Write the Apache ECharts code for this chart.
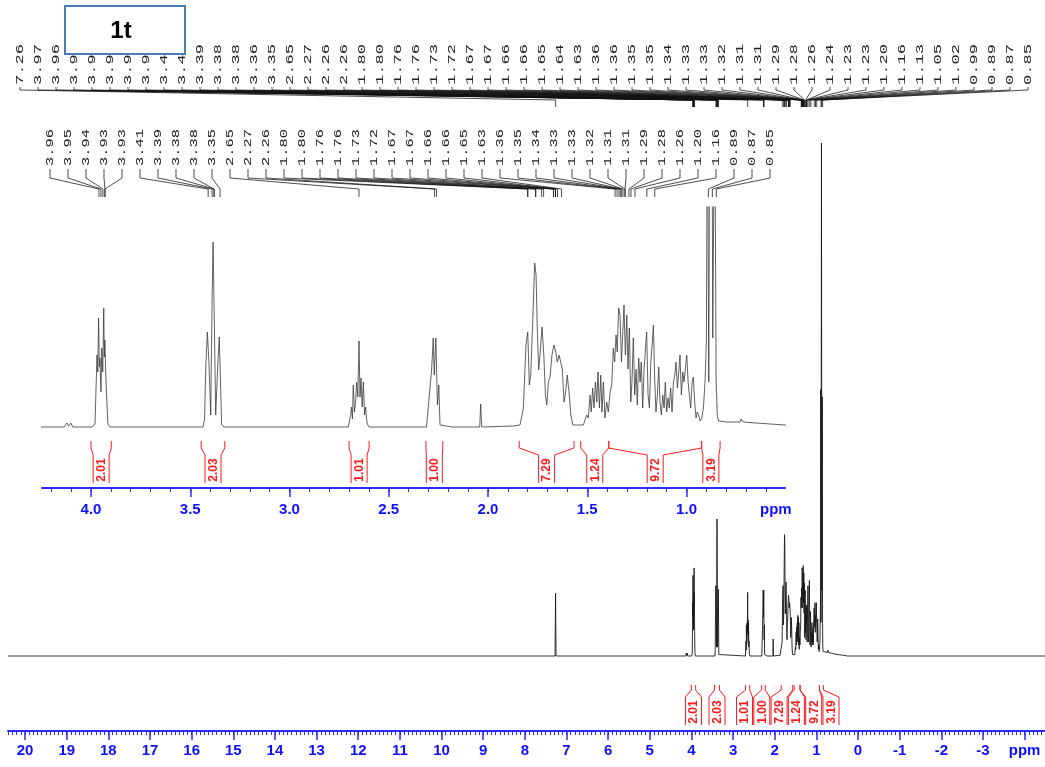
<!DOCTYPE html>
<html>
<head>
<meta charset="utf-8">
<title>1t - 1H NMR</title>
<script src="https://cdn.jsdelivr.net/npm/echarts@6/dist/echarts.min.js"></script>
<style>
  html, body { margin: 0; padding: 0; background: #ffffff; }
  #chart { width: 1045px; height: 767px; }
</style>
</head>
<body>
<div id="chart"></div>
<script>
// 1H NMR spectrum of 1t: full sweep (20 to -4 ppm) with an expanded 4.2-0.5 ppm view.
// Trace points are [shift in ppm, intensity] read per multiplet.

const signalCHCl3 = [[7.275, 0], [7.262, 85], [7.250, 0]];
const signal412 = [[4.135, 0], [4.122, 4], [4.112, 1], [4.102, 4], [4.092, 0]];
const signal395 = [[3.995, 0], [3.980, 3], [3.970, 72], [3.966, 55], [3.962, 109], [3.958, 60], [3.955, 69],
  [3.950, 35], [3.946, 79], [3.941, 55], [3.936, 119], [3.933, 70], [3.930, 87], [3.927, 60], [3.922, 33],
  [3.915, 3], [3.905, 0]];
const signal338 = [[3.436, 0], [3.428, 8], [3.422, 60], [3.414, 95], [3.406, 65], [3.397, 12], [3.390, 129],
  [3.385, 185], [3.380, 120], [3.372, 12], [3.362, 60], [3.354, 90], [3.349, 54], [3.342, 2], [3.330, 0]];
const signal265 = [[2.704, 0], [2.692, 12], [2.688, 20], [2.683, 8], [2.679, 42], [2.673, 15], [2.667, 25],
  [2.662, 45], [2.656, 30], [2.650, 86], [2.645, 30], [2.640, 49], [2.634, 20], [2.628, 45], [2.622, 12],
  [2.617, 20], [2.612, 8], [2.608, 3], [2.599, 0]];
const signal227 = [[2.310, 0], [2.301, 2], [2.292, 40], [2.284, 58], [2.276, 89], [2.271, 52], [2.263, 89],
  [2.255, 22], [2.248, 42], [2.242, 2], [2.235, 0]];
const signal204 = [[2.180, 0], [2.175, 2], [2.170, 0], [2.042, 0], [2.037, 23], [2.032, 0], [1.870, 1]];
const signal176 = [[1.839, 2], [1.822, 19], [1.809, 82], [1.800, 95], [1.792, 42], [1.785, 52], [1.775, 105],
  [1.765, 164], [1.758, 152], [1.752, 99], [1.745, 57], [1.737, 75], [1.728, 100], [1.719, 72], [1.711, 32],
  [1.704, 22], [1.696, 45], [1.688, 50], [1.678, 72], [1.668, 82], [1.659, 75], [1.651, 65], [1.642, 72],
  [1.634, 74], [1.626, 58], [1.617, 25], [1.609, 35], [1.601, 52], [1.592, 35], [1.583, 12], [1.573, 2],
  [1.553, 2], [1.520, 2]];
const signal130 = [[1.511, 4], [1.503, 12], [1.495, 9], [1.486, 32], [1.480, 15], [1.473, 39], [1.466, 19],
  [1.459, 45], [1.452, 25], [1.446, 55], [1.439, 19], [1.432, 52], [1.426, 15], [1.419, 45], [1.411, 9],
  [1.402, 25], [1.394, 15], [1.385, 35], [1.377, 42], [1.369, 79], [1.362, 65], [1.355, 92], [1.349, 75],
  [1.342, 119], [1.335, 112], [1.328, 65], [1.321, 95], [1.315, 122], [1.308, 72], [1.301, 112], [1.295, 58],
  [1.288, 99], [1.281, 25], [1.275, 45], [1.268, 89], [1.261, 32], [1.254, 58], [1.248, 22], [1.241, 69],
  [1.234, 45], [1.228, 65], [1.221, 19], [1.214, 58], [1.208, 75], [1.201, 95], [1.194, 32], [1.187, 19],
  [1.180, 65], [1.172, 85], [1.167, 102], [1.160, 45], [1.154, 15], [1.147, 32], [1.140, 60], [1.134, 25],
  [1.127, 12], [1.120, 32], [1.113, 19], [1.107, 45], [1.100, 15], [1.093, 29], [1.087, 19], [1.080, 39],
  [1.073, 15], [1.066, 45], [1.059, 52], [1.053, 65], [1.046, 39], [1.039, 55], [1.033, 72], [1.026, 32],
  [1.019, 55], [1.013, 45], [1.006, 58], [0.999, 72], [0.992, 45], [0.986, 32], [0.979, 19], [0.972, 45],
  [0.966, 50], [0.959, 25], [0.952, 9], [0.946, 15], [0.939, 12], [0.932, 6], [0.923, 9], [0.915, 19],
  [0.907, 45], [0.900, 85]];
const signal087 = [[0.895, 360], [0.888, 45], [0.877, 693], [0.868, 89], [0.858, 350], [0.851, 45], [0.845, 12],
  [0.839, 6], [0.831, 4], [0.800, 5], [0.730, 5], [0.725, 8], [0.715, 5], [0.650, 4], [0.504, 2], [0.350, 1],
  [0.250, 0]];

// Peak pick labels (ppm)
const fullPeakLabels = [7.26, 3.97, 3.96, 3.95, 3.95, 3.94, 3.93, 3.93, 3.41, 3.40, 3.39, 3.38, 3.38, 3.36, 3.35,
  2.65, 2.27, 2.26, 2.26, 1.80, 1.80, 1.76, 1.76, 1.73, 1.72, 1.67, 1.67, 1.66, 1.66, 1.65, 1.64, 1.63,
  1.36, 1.36, 1.35, 1.35, 1.34, 1.33, 1.33, 1.32, 1.31, 1.31, 1.29, 1.28, 1.26, 1.24, 1.23, 1.23, 1.20,
  1.16, 1.13, 1.05, 1.02, 0.99, 0.89, 0.87, 0.85];
const expandedPeakLabels = [3.96, 3.95, 3.94, 3.93, 3.93, 3.41, 3.39, 3.38, 3.38, 3.35, 2.65, 2.27, 2.26,
  1.80, 1.80, 1.76, 1.76, 1.73, 1.72, 1.67, 1.67, 1.66, 1.66, 1.65, 1.63, 1.36, 1.35, 1.34, 1.33, 1.33,
  1.32, 1.31, 1.31, 1.29, 1.28, 1.26, 1.20, 1.16, 0.89, 0.87, 0.85];

// Integrals: value and region limits (ppm)
const integralValues = [2.01, 2.03, 1.01, 1.00, 7.29, 1.24, 9.72, 3.19];
const integralFrom = [4.000, 3.445, 2.700, 2.313, 1.843, 1.533, 1.392, 0.924];
const integralTo = [3.898, 3.326, 2.599, 2.228, 1.567, 1.392, 0.924, 0.831];

// Axis tick labels
const fullAxisLabels = [20, 19, 18, 17, 16, 15, 14, 13, 12, 11, 10, 9, 8, 7, 6, 5, 4, 3, 2, 1, 0, -1, -2, -3, -4];
const expandedAxisLabels = [4.0, 3.5, 3.0, 2.5, 2.0, 1.5, 1.0, 0.55];

// ---- assemble the trace ----
const trace = [[20.41, 0]].concat(signalCHCl3, [[4.30, 0]], signal412, signal395, signal338, signal265,
  signal227, signal204, signal176, signal130, signal087, [[-4.49, 0]]);

// ---- layout ----
const BLUE_LINE = '#2b2bff';
const BLUE_TEXT = '#0f0fff';
const RED = '#ff1a1a';
const FULL = { min: -4.49, max: 20.41, yMin: -101.3, yMax: 693 };
const EXPANDED = { min: 0.504, max: 4.247, yMin: -61, yMax: 220 };

function tickRange(from, to, step) {
  const out = [];
  const n = Math.round((to - from) / step);
  for (let k = 0; k <= n; k++) out.push(+(from + k * step).toFixed(3));
  return out;
}
const fullMajorTicks = fullAxisLabels.slice();
const fullMinorTicks = tickRange(-4.4, 20.4, 0.1);
const expandedMajorTicks = [4.0, 3.5, 3.0, 2.5, 2.0, 1.5, 1.0];
const expandedMinorTicks = tickRange(0.6, 4.2, 0.1);

// Least-squares placement of labels with a minimum spacing (pool adjacent violators)
function spreadLabels(centers, gap) {
  const z = centers.map((c, i) => c - i * gap);
  const blocks = [];
  z.forEach(v => {
    blocks.push({ sum: v, n: 1 });
    while (blocks.length > 1) {
      const a = blocks[blocks.length - 2], b = blocks[blocks.length - 1];
      if (a.sum / a.n > b.sum / b.n) { a.sum += b.sum; a.n += b.n; blocks.pop(); } else break;
    }
  });
  const out = [];
  blocks.forEach(b => { for (let k = 0; k < b.n; k++) out.push(b.sum / b.n); });
  return out.map((v, i) => v + i * gap);
}

function peakFan(labels, xAxisIndex, yAxisIndex, L) {
  return {
    type: 'custom',
    xAxisIndex, yAxisIndex,
    silent: true, clip: false, z: 5,
    data: labels.map(v => [v, 0]),
    encode: { x: 0, y: 1 },
    renderItem(params, api) {
      const i = params.dataIndex;
      const n = labels.length;
      const cs = params.coordSys;
      const x0 = cs.x + L.padL, x1 = cs.x + cs.width - L.padR;
      const xl = x0 + (x1 - x0) * i / (n - 1);
      const xp = api.coord([api.value(0), 0])[0];
      return {
        type: 'group',
        children: [
          {
            type: 'text', x: xl, y: L.textBottom, rotation: Math.PI / 2, scaleX: L.stretch,
            style: { text: labels[i].toFixed(2), x: 0, y: 0, align: 'left', verticalAlign: 'middle',
              font: 'normal 11px "Liberation Mono", "DejaVu Sans Mono", monospace', fill: '#222222' }
          },
          {
            type: 'polyline',
            shape: { points: [[xl, L.tickTop], [xl, L.tickBottom], [xp, L.bendY], [xp, L.peakY]] },
            style: { stroke: '#111', lineWidth: 0.75, fill: 'none' }
          }
        ]
      };
    }
  };
}

function integralMarks(xAxisIndex, yAxisIndex, L) {
  return {
    type: 'custom',
    xAxisIndex, yAxisIndex,
    silent: true, clip: false, z: 6,
    data: integralValues.map((v, i) => [integralFrom[i], integralTo[i], v]),
    encode: { x: [0, 1], y: 2 },
    renderItem(params, api) {
      const idx = params.dataIndex;
      const centers = integralFrom.map((f, i) => {
        const a = api.coord([f, 0])[0], b = api.coord([integralTo[i], 0])[0];
        return (a + b) / 2;
      });
      const pos = spreadLabels(centers, L.gap);
      const xa = api.coord([api.value(0), 0])[0];
      const xb = api.coord([api.value(1), 0])[0];
      const c = pos[idx];
      const h = L.half;
      const line = pts => ({ type: 'polyline', shape: { points: pts }, style: { stroke: RED, lineWidth: 1, fill: 'none' } });
      return {
        type: 'group',
        children: [
          line([[xa, L.top], [xa, L.y1], [c - h, L.y2], [c - h, L.bottom]]),
          line([[xb, L.top], [xb, L.y1], [c + h, L.y2], [c + h, L.bottom]]),
          {
            type: 'text', x: c + 0.5, y: (L.y2 + L.bottom) / 2 + 1, rotation: Math.PI / 2,
            style: { text: api.value(2).toFixed(2), x: 0, y: 0, align: 'center', verticalAlign: 'middle',
              font: 'bold 12px "Liberation Sans", Arial, sans-serif', fill: RED }
          }
        ]
      };
    }
  };
}

function majorAxis(gridIndex, range, ticks, labels, fmt, margin) {
  return {
    type: 'value', gridIndex, min: range.min, max: range.max, inverse: true, position: 'bottom',
    axisLine: { show: true, onZero: false, lineStyle: { color: BLUE_LINE, width: 2 } },
    axisTick: { show: true, length: 9, customValues: ticks, lineStyle: { color: BLUE_LINE, width: 1.5 } },
    axisLabel: { show: true, customValues: labels, formatter: fmt, margin, color: BLUE_TEXT,
      fontFamily: '"Liberation Sans Narrow", "Liberation Sans", Arial, sans-serif',
      fontWeight: 'bold', fontSize: 15 },
    splitLine: { show: false }
  };
}
function minorAxis(gridIndex, range, ticks) {
  return {
    type: 'value', gridIndex, min: range.min, max: range.max, inverse: true, position: 'bottom',
    axisLine: { show: false, onZero: false },
    axisTick: { show: true, length: 4, customValues: ticks, lineStyle: { color: BLUE_LINE, width: 1 } },
    axisLabel: { show: false, customValues: ticks },
    splitLine: { show: false }
  };
}

const chart = echarts.init(document.getElementById('chart'), null, { renderer: 'canvas' });
chart.setOption({
  backgroundColor: '#ffffff',
  animation: false,
  grid: [
    { left: 8, right: 0, top: 143, bottom: 36 },
    { left: 42, right: 260, top: 207, bottom: 279 }
  ],
  xAxis: [
    majorAxis(0, FULL, fullMajorTicks, fullAxisLabels, v => (v === -4 ? 'ppm' : String(v)), 12),
    minorAxis(0, FULL, fullMinorTicks),
    majorAxis(1, EXPANDED, expandedMajorTicks, expandedAxisLabels, v => (v < 0.9 ? 'ppm' : v.toFixed(1)), 14),
    minorAxis(1, EXPANDED, expandedMinorTicks)
  ],
  yAxis: [
    { type: 'value', gridIndex: 0, min: FULL.yMin, max: FULL.yMax, show: false },
    { type: 'value', gridIndex: 1, min: EXPANDED.yMin, max: EXPANDED.yMax, show: false }
  ],
  series: [
    {
      type: 'line', name: 'full', xAxisIndex: 0, yAxisIndex: 0, data: trace,
      showSymbol: false, symbol: 'none', clip: true, silent: true,
      lineStyle: { color: '#1a1a1a', width: 0.9 }, z: 3
    },
    {
      type: 'line', name: 'expanded', xAxisIndex: 2, yAxisIndex: 1, data: trace,
      showSymbol: false, symbol: 'none', clip: true, silent: true,
      lineStyle: { color: '#3a3a3a', width: 0.8 }, z: 3
    },
    peakFan(fullPeakLabels, 0, 0, { padL: 12, padR: 17, textBottom: 85, tickTop: 87, tickBottom: 90, bendY: 100, peakY: 107, stretch: 1.55 }),
    peakFan(expandedPeakLabels, 2, 1, { padL: 8, padR: 15, textBottom: 166, tickTop: 169, tickBottom: 178, bendY: 189, peakY: 197, stretch: 1.4 }),
    integralMarks(0, 0, { top: 685, y1: 690, y2: 697, bottom: 725, half: 8, gap: 17.3 }),
    integralMarks(2, 1, { top: 441, y1: 448, y2: 455, bottom: 483, half: 8, gap: 17.3 })
  ],
  graphic: [
    {
      type: 'rect', z: 100, shape: { x: 65, y: 6, width: 120, height: 48 },
      style: { fill: '#ffffff', stroke: '#4a7ebb', lineWidth: 2 }
    },
    {
      type: 'text', z: 101, x: 121, y: 31,
      style: { text: '1t', font: 'bold 24px "Liberation Sans", Arial, sans-serif', fill: '#000000',
        align: 'center', verticalAlign: 'middle' }
    }
  ]
});
</script>
</body>
</html>
